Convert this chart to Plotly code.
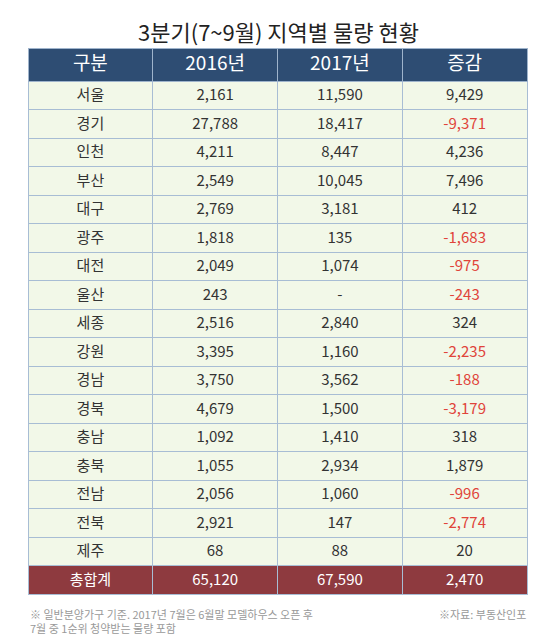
import plotly.graph_objects as go

regions = ["서울","경기","인천","부산","대구","광주","대전","울산","세종","강원","경남","경북","충남","충북","전남","전북","제주"]
y2016 = ["2,161","27,788","4,211","2,549","2,769","1,818","2,049","243","2,516","3,395","3,750","4,679","1,092","1,055","2,056","2,921","68"]
y2017 = ["11,590","18,417","8,447","10,045","3,181","135","1,074","-","2,840","1,160","3,562","1,500","1,410","2,934","1,060","147","88"]
change = ["9,429","-9,371","4,236","7,496","412","-1,683","-975","-243","324","-2,235","-188","-3,179","318","1,879","-996","-2,774","20"]
total = ["총합계","65,120","67,590","2,470"]
headers = ["구분","2016년","2017년","증감"]

fill = ["#f2f8e8"] * len(regions) + ["#8e3a3f"]
base_font = ["#333333"] * len(regions) + ["white"]
chg_font = [("#e0443a" if v.startswith("-") else "#333333") for v in change] + ["white"]

cols = [regions + [total[0]], y2016 + [total[1]], y2017 + [total[2]], change + [total[3]]]

fig = go.Figure(go.Table(
    domain=dict(x=[20/540, 520/540], y=[0, 1-40/634]),
    columnwidth=[1, 1, 1, 1],
    header=dict(values=headers, fill_color="#2e4d73", line_color="#9fb4cc",
                font=dict(color="white", size=19, family="Noto Sans CJK KR"),
                align="center", height=33),
    cells=dict(values=cols, fill_color=[fill]*4, line_color="#a8bdd4",
               font=dict(color=[base_font, base_font, base_font, chg_font], size=[15]*4,
                         family="Noto Sans CJK KR"),
               align="center", height=28.5),
))
fig.update_layout(
    width=540, height=634, margin=dict(l=0, r=0, t=0, b=0),
    paper_bgcolor="white",
    annotations=[
        dict(text="3분기(7~9월) 지역별 물량 현황", x=0.5, y=1-23/634, xref="paper", yref="paper",
             yanchor="middle", showarrow=False,
             font=dict(size=22, color="#222", family="Noto Sans CJK KR")),
        dict(text="※ 일반분양가구 기준. 2017년 7월은 6월말 모델하우스 오픈 후<br>7월 중 1순위 청약받는 물량 포함",
             x=20/540, y=1-596/634, xref="paper", yref="paper", xanchor="left", yanchor="top",
             align="left", showarrow=False, font=dict(size=11, color="#999", family="Noto Sans CJK KR")),
        dict(text="※자료: 부동산인포", x=520/540, y=1-596/634, xref="paper", yref="paper",
             xanchor="right", yanchor="top", showarrow=False,
             font=dict(size=11, color="#999", family="Noto Sans CJK KR")),
    ],
)
fig.write_html("out.html")
